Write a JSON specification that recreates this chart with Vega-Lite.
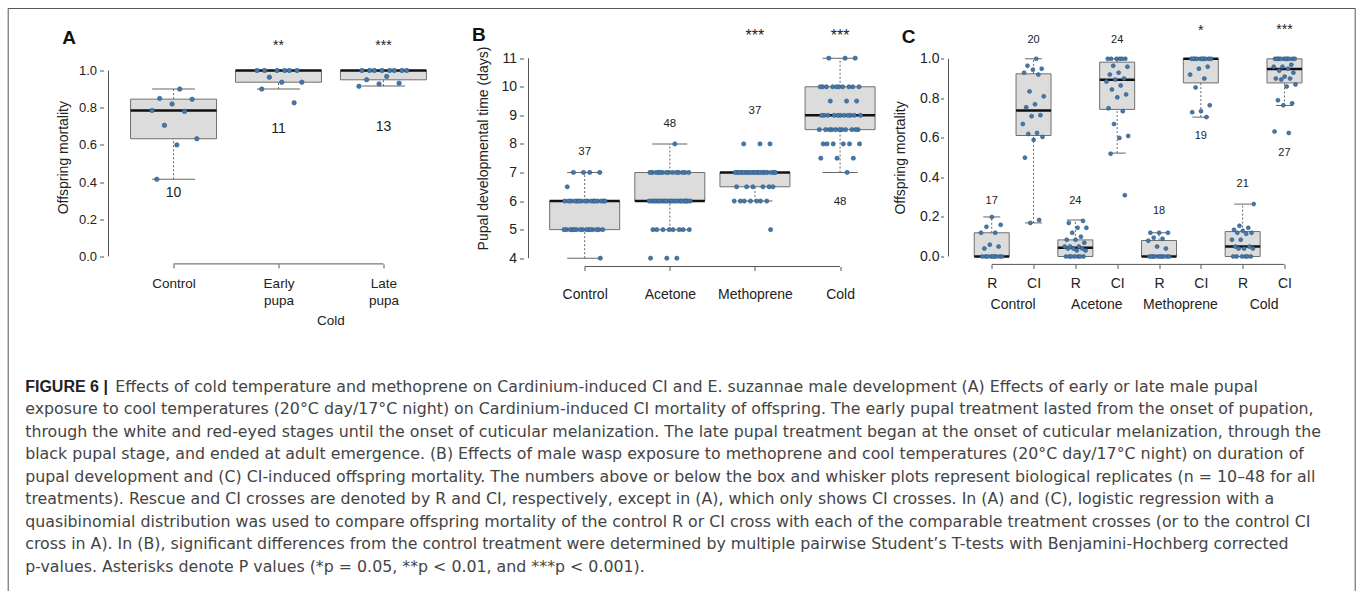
{
  "$schema": "https://vega.github.io/schema/vega-lite/v6.json",
  "background": "white",
  "padding": {"left": 7.5, "top": 7.5, "right": 2, "bottom": 0},
  "autosize": {"type": "pad"},
  "spacing": 0,
  "bounds": "flush",
  "datasets": {
    "boxA": [
      {"g": "Control", "pos": 1, "lo": 0.415, "q1": 0.633, "med": 0.785, "q3": 0.846, "hi": 0.9, "n": "10", "ny": 0.34, "star": "", "sy": 1.134,
       "vals": [0.9, 0.85, 0.845, 0.82, 0.785, 0.78, 0.705, 0.633, 0.6, 0.415]},
      {"g": "Early pupa", "pos": 2, "lo": 0.9, "q1": 0.937, "med": 1.0, "q3": 1.0, "hi": 1.0, "n": "11", "ny": 0.686, "star": "**", "sy": 1.134,
       "vals": [1, 1, 1, 1, 1, 1, 0.964, 0.937, 0.937, 0.9, 0.826]},
      {"g": "Late pupa", "pos": 3, "lo": 0.916, "q1": 0.95, "med": 1.0, "q3": 1.0, "hi": 1.0, "n": "13", "ny": 0.695, "star": "***", "sy": 1.134,
       "vals": [1, 1, 1, 1, 1, 1, 1, 1, 0.968, 0.95, 0.932, 0.928, 0.915]}
    ],
    "boxB": [
      {"g": "Control", "pos": 1, "lo": 4, "q1": 5, "med": 6, "q3": 6, "hi": 7, "n": "37", "ny": 7.73, "star": "", "sy": 11.79,
       "vals": [7, 7, 7, 7, 6.5, 6, 6, 6, 6, 6, 6, 6, 6, 6, 6, 6, 6, 6, 6, 6, 6, 5, 5, 5, 5, 5, 5, 5, 5, 5, 5, 5, 5, 5, 5, 5, 4]},
      {"g": "Acetone", "pos": 2, "lo": 5, "q1": 6, "med": 6, "q3": 7, "hi": 8, "n": "48", "ny": 8.68, "star": "", "sy": 11.79,
       "vals": [8, 7, 7, 7, 7, 7, 7, 7, 7, 7, 7, 7, 7, 7, 7, 6, 6, 6, 6, 6, 6, 6, 6, 6, 6, 6, 6, 6, 6, 6, 6, 6, 6, 6, 6, 6, 6, 5, 5, 5, 5, 5, 5, 5, 5, 4, 4, 4]},
      {"g": "Methoprene", "pos": 3, "lo": 6, "q1": 6.5, "med": 7, "q3": 7, "hi": 7, "n": "37", "ny": 9.15, "star": "***", "sy": 11.79,
       "vals": [8, 8, 8, 7, 7, 7, 7, 7, 7, 7, 7, 7, 7, 7, 7, 7, 7, 7, 7, 7, 7, 7, 7, 6.5, 6.5, 6.5, 6.5, 6.5, 6.5, 6, 6, 6, 6, 6, 6, 6, 5]},
      {"g": "Cold", "pos": 4, "lo": 7, "q1": 8.5, "med": 9, "q3": 10, "hi": 11, "n": "48", "ny": 5.96, "star": "***", "sy": 11.79,
       "vals": [11, 11, 11, 10, 10, 10, 10, 10, 10, 10, 10, 10, 10, 9.5, 9.5, 9.5, 9, 9, 9, 9, 9, 9, 9, 9, 9, 9, 9, 8.5, 8.5, 8.5, 8.5, 8.5, 8.5, 8.5, 8.5, 8.5, 8.5, 8.5, 8, 8, 8, 8, 8, 8, 7.5, 7.5, 7.5, 7]}
    ],
    "boxC": [
      {"g": "Control R", "treat": "Control", "cross": "R", "pos": 1, "lo": 0, "q1": 0, "med": 0, "q3": 0.12, "hi": 0.2, "n": "17", "ny": 0.283, "star": "", "sy": 1.145,
       "vals": [0, 0, 0, 0, 0, 0, 0, 0, 0, 0.04, 0.05, 0.06, 0.12, 0.12, 0.15, 0.16, 0.2]},
      {"g": "Control CI", "treat": "Control", "cross": "CI", "pos": 2, "lo": 0.17, "q1": 0.612, "med": 0.739, "q3": 0.924, "hi": 1.0, "n": "20", "ny": 1.096, "star": "", "sy": 1.145,
       "vals": [1.0, 0.965, 0.95, 0.945, 0.93, 0.92, 0.835, 0.81, 0.77, 0.755, 0.715, 0.71, 0.67, 0.625, 0.62, 0.605, 0.59, 0.5, 0.185, 0.17]},
      {"g": "Acetone R", "treat": "Acetone", "cross": "R", "pos": 3, "lo": 0, "q1": 0, "med": 0.044, "q3": 0.084, "hi": 0.184, "n": "24", "ny": 0.283, "star": "", "sy": 1.145,
       "vals": [0, 0, 0, 0, 0, 0, 0, 0.03, 0.03, 0.04, 0.04, 0.04, 0.05, 0.05, 0.05, 0.07, 0.085, 0.085, 0.1, 0.12, 0.145, 0.145, 0.17, 0.18]},
      {"g": "Acetone CI", "treat": "Acetone", "cross": "CI", "pos": 4, "lo": 0.523, "q1": 0.744, "med": 0.894, "q3": 0.983, "hi": 1.0, "n": "24", "ny": 1.096, "star": "", "sy": 1.145,
       "vals": [1, 1, 1, 1, 1, 1, 0.965, 0.96, 0.93, 0.92, 0.9, 0.895, 0.885, 0.865, 0.845, 0.82, 0.805, 0.75, 0.735, 0.67, 0.61, 0.6, 0.52, 0.31]},
      {"g": "Methoprene R", "treat": "Methoprene", "cross": "R", "pos": 5, "lo": 0, "q1": 0, "med": 0, "q3": 0.081, "hi": 0.12, "n": "18", "ny": 0.228, "star": "", "sy": 1.145,
       "vals": [0, 0, 0, 0, 0, 0, 0, 0, 0, 0, 0.04, 0.05, 0.08, 0.09, 0.095, 0.12, 0.12, 0.12]},
      {"g": "Methoprene CI", "treat": "Methoprene", "cross": "CI", "pos": 6, "lo": 0.705, "q1": 0.878, "med": 1.0, "q3": 1.0, "hi": 1.0, "n": "19", "ny": 0.612, "star": "*", "sy": 1.143,
       "vals": [1, 1, 1, 1, 1, 1, 1, 1, 1, 1, 0.96, 0.95, 0.92, 0.9, 0.855, 0.765, 0.735, 0.73, 0.705]},
      {"g": "Cold R", "treat": "Cold", "cross": "R", "pos": 7, "lo": 0, "q1": 0, "med": 0.05, "q3": 0.126, "hi": 0.265, "n": "21", "ny": 0.368, "star": "", "sy": 1.145,
       "vals": [0, 0, 0, 0, 0, 0, 0.04, 0.04, 0.04, 0.05, 0.05, 0.085, 0.085, 0.115, 0.12, 0.12, 0.13, 0.135, 0.145, 0.155, 0.265]},
      {"g": "Cold CI", "treat": "Cold", "cross": "CI", "pos": 8, "lo": 0.764, "q1": 0.878, "med": 0.949, "q3": 1.0, "hi": 1.0, "n": "27", "ny": 0.524, "star": "***", "sy": 1.148,
       "vals": [1, 1, 1, 1, 1, 1, 1, 1, 1, 1, 0.97, 0.96, 0.96, 0.95, 0.94, 0.93, 0.91, 0.9, 0.9, 0.895, 0.87, 0.86, 0.79, 0.775, 0.765, 0.632, 0.625]}
    ],
    "caption": [
      {"line": 1, "text": "Effects of cold temperature and methoprene on Cardinium-induced CI and E. suzannae male development (A) Effects of early or late male pupal"},
      {"line": 2, "text": "exposure to cool temperatures (20°C day/17°C night) on Cardinium-induced CI mortality of offspring. The early pupal treatment lasted from the onset of pupation,"},
      {"line": 3, "text": "through the white and red-eyed stages until the onset of cuticular melanization. The late pupal treatment began at the onset of cuticular melanization, through the"},
      {"line": 4, "text": "black pupal stage, and ended at adult emergence. (B) Effects of male wasp exposure to methoprene and cool temperatures (20°C day/17°C night) on duration of"},
      {"line": 5, "text": "pupal development and (C) CI-induced offspring mortality. The numbers above or below the box and whisker plots represent biological replicates (n = 10–48 for all"},
      {"line": 6, "text": "treatments). Rescue and CI crosses are denoted by R and CI, respectively, except in (A), which only shows CI crosses. In (A) and (C), logistic regression with a"},
      {"line": 7, "text": "quasibinomial distribution was used to compare offspring mortality of the control R or CI cross with each of the comparable treatment crosses (or to the control CI"},
      {"line": 8, "text": "cross in A). In (B), significant differences from the control treatment were determined by multiple pairwise Student’s T-tests with Benjamini-Hochberg corrected"},
      {"line": 9, "text": "p-values. Asterisks denote P values (*p = 0.05, **p < 0.01, and ***p < 0.001)."}
    ]
  },
  "hconcat": [
    {
      "width": 419.1,
      "height": 213.4,
      "resolve": {"scale": {"x": "independent", "y": "independent"}},
      "layer": [
        {
          "data": {"name": "boxA"},
          "layer": [
            {
              "mark": {"type": "bar", "width": 86, "fill": "#dcdcdc", "stroke": "#707070", "strokeWidth": 1},
              "encoding": {
                "x": {"field": "pos", "type": "quantitative", "scale": {"domain": [0.38, 4.2786], "nice": false, "zero": false},
                  "axis": {"values": [1, 2, 3], "labelExpr": "datum.value == 1 ? 'Control' : datum.value == 2 ? ['Early', 'pupa'] : ['Late', 'pupa']", "tickSize": 4, "labelFontSize": 13.5, "labelPadding": 8.5, "labelLineHeight": 17.6, "labelFlush": false, "labelOverlap": false, "title": null}},
                "y": {"field": "q1", "type": "quantitative", "scale": {"domain": [-0.04, 1.1075], "nice": false, "zero": false},
                  "axis": {"values": [0, 0.2, 0.4, 0.6, 0.8, 1.0], "format": ".1f", "tickSize": 4, "labelFontSize": 13, "labelPadding": 3, "labelOverlap": false, "title": "Offspring mortality", "titleFontSize": 14, "titlePadding": 8}},
                "y2": {"field": "q3"}
              }
            },
            {
              "mark": {"type": "rule", "stroke": "#666", "strokeDash": [2, 2], "strokeWidth": 1},
              "encoding": {"x": {"field": "pos", "type": "quantitative"}, "y": {"field": "q3", "type": "quantitative"}, "y2": {"field": "hi"}}
            },
            {
              "mark": {"type": "rule", "stroke": "#666", "strokeDash": [2, 2], "strokeWidth": 1},
              "encoding": {"x": {"field": "pos", "type": "quantitative"}, "y": {"field": "lo", "type": "quantitative"}, "y2": {"field": "q1"}}
            },
            {
              "mark": {"type": "tick", "orient": "horizontal", "size": 43, "thickness": 1, "color": "#666", "opacity": 1},
              "encoding": {"x": {"field": "pos", "type": "quantitative"}, "y": {"field": "hi", "type": "quantitative"}}
            },
            {
              "mark": {"type": "tick", "orient": "horizontal", "size": 43, "thickness": 1, "color": "#666", "opacity": 1},
              "encoding": {"x": {"field": "pos", "type": "quantitative"}, "y": {"field": "lo", "type": "quantitative"}}
            },
            {
              "mark": {"type": "tick", "orient": "horizontal", "size": 86, "thickness": 2.5, "color": "#111", "opacity": 1},
              "encoding": {"x": {"field": "pos", "type": "quantitative"}, "y": {"field": "med", "type": "quantitative"}}
            },
            {
              "transform": [
                {"flatten": ["vals"], "as": ["v"]},
                {"window": [{"op": "row_number", "as": "i"}], "groupby": ["g"]},
                {"calculate": "datum.pos + (((datum.i * 0.618034) % 1) - 0.5) * 0.5", "as": "xj"}
              ],
              "mark": {"type": "circle", "size": 20, "color": "#4677a8", "opacity": 1, "stroke": "#2d5a87", "strokeWidth": 0.6},
              "encoding": {"x": {"field": "xj", "type": "quantitative"}, "y": {"field": "v", "type": "quantitative"}}
            },
            {
              "mark": {"type": "text", "fontSize": 14, "color": "#222", "baseline": "middle"},
              "encoding": {"x": {"field": "pos", "type": "quantitative"}, "y": {"field": "ny", "type": "quantitative"}, "text": {"field": "n"}}
            },
            {
              "transform": [{"filter": "datum.star != ''"}],
              "mark": {"type": "text", "fontSize": 14, "color": "#222", "baseline": "middle"},
              "encoding": {"x": {"field": "pos", "type": "quantitative"}, "y": {"field": "sy", "type": "quantitative"}, "text": {"field": "star"}}
            },
            {
              "data": {"values": [{}]},
              "mark": {"type": "rule", "stroke": "#555", "strokeWidth": 1},
              "encoding": {"x": {"datum": 0.38, "type": "quantitative"}, "y": {"datum": 0, "type": "quantitative"}, "y2": {"datum": 1}}
            },
            {
              "data": {"values": [{}]},
              "mark": {"type": "rule", "stroke": "#555", "strokeWidth": 1},
              "encoding": {"x": {"datum": 1, "type": "quantitative"}, "x2": {"datum": 3}, "y": {"datum": -0.04, "type": "quantitative"}}
            },
            {
              "data": {"values": [{}]},
              "mark": {"type": "text", "text": "A", "fontSize": 19, "fontWeight": "bold", "color": "#111", "baseline": "middle"},
              "encoding": {"x": {"datum": 0.005, "type": "quantitative"}, "y": {"datum": 1.1737, "type": "quantitative"}}
            },
            {
              "data": {"values": [{}]},
              "mark": {"type": "text", "text": "Cold", "fontSize": 13.5, "color": "#222", "baseline": "middle"},
              "encoding": {"x": {"datum": 2.5, "type": "quantitative"}, "y": {"datum": -0.3495, "type": "quantitative"}}
            }
          ]
        },
        {
          "data": {"name": "caption"},
          "layer": [
            {
              "data": {"values": [{}]},
              "mark": {"type": "rect", "fill": "white", "fillOpacity": 0, "stroke": "#555", "strokeWidth": 1},
              "encoding": {
                "x": {"datum": -95.3, "type": "quantitative", "scale": {"domain": [0, 419.1], "nice": false, "zero": false}, "axis": null},
                "x2": {"datum": 1251.7},
                "y": {"datum": -15.8, "type": "quantitative", "scale": {"domain": [-13.933, -4.449], "reverse": true, "nice": false, "zero": false}, "axis": null},
                "y2": {"datum": 11}
              }
            },
            {
              "data": {"values": [{}]},
              "mark": {"type": "text", "text": "FIGURE 6 |", "fontWeight": "bold", "font": "Liberation Sans", "fontSize": 16, "align": "left", "baseline": "middle", "color": "#222"},
              "encoding": {"x": {"datum": -78.3, "type": "quantitative"}, "y": {"datum": 1, "type": "quantitative"}}
            },
            {
              "transform": [{"filter": "datum.line == 1"}],
              "mark": {"type": "text", "font": "DejaVu Sans", "fontSize": 15.8, "align": "left", "baseline": "middle", "color": "#444"},
              "encoding": {"x": {"datum": 11.7, "type": "quantitative"}, "y": {"field": "line", "type": "quantitative"}, "text": {"field": "text"}}
            },
            {
              "transform": [{"filter": "datum.line > 1"}],
              "mark": {"type": "text", "font": "DejaVu Sans", "fontSize": 15.8, "align": "left", "baseline": "middle", "color": "#444"},
              "encoding": {"x": {"datum": -78.3, "type": "quantitative"}, "y": {"field": "line", "type": "quantitative"}, "text": {"field": "text"}}
            }
          ]
        }
      ]
    },
    {
      "width": 419.3,
      "height": 216,
      "data": {"name": "boxB"},
      "layer": [
        {
          "mark": {"type": "bar", "width": 70, "fill": "#dcdcdc", "stroke": "#707070", "strokeWidth": 1},
          "encoding": {
            "x": {"field": "pos", "type": "quantitative", "scale": {"domain": [0.34, 5.148], "nice": false, "zero": false},
              "axis": {"values": [1, 2, 3, 4], "labelExpr": "['Control', 'Acetone', 'Methoprene', 'Cold'][datum.value - 1]", "tickSize": 4, "labelFontSize": 14, "labelPadding": 17, "labelFlush": false, "labelOverlap": false, "title": null}},
            "y": {"field": "q1", "type": "quantitative", "scale": {"domain": [3.7095, 11.2695], "nice": false, "zero": false},
              "axis": {"values": [4, 5, 6, 7, 8, 9, 10, 11], "tickCount": 8, "format": "d", "tickSize": 4, "labelFontSize": 14, "labelPadding": 3, "labelOverlap": false, "title": "Pupal developmental time (days)", "titleFontSize": 14, "titlePadding": 10, "titleY": 97.5}},
            "y2": {"field": "q3"}
          }
        },
        {
          "mark": {"type": "rule", "stroke": "#666", "strokeDash": [2, 2], "strokeWidth": 1},
          "encoding": {"x": {"field": "pos", "type": "quantitative"}, "y": {"field": "q3", "type": "quantitative"}, "y2": {"field": "hi"}}
        },
        {
          "mark": {"type": "rule", "stroke": "#666", "strokeDash": [2, 2], "strokeWidth": 1},
          "encoding": {"x": {"field": "pos", "type": "quantitative"}, "y": {"field": "lo", "type": "quantitative"}, "y2": {"field": "q1"}}
        },
        {
          "mark": {"type": "tick", "orient": "horizontal", "size": 35, "thickness": 1, "color": "#666", "opacity": 1},
          "encoding": {"x": {"field": "pos", "type": "quantitative"}, "y": {"field": "hi", "type": "quantitative"}}
        },
        {
          "mark": {"type": "tick", "orient": "horizontal", "size": 35, "thickness": 1, "color": "#666", "opacity": 1},
          "encoding": {"x": {"field": "pos", "type": "quantitative"}, "y": {"field": "lo", "type": "quantitative"}}
        },
        {
          "mark": {"type": "tick", "orient": "horizontal", "size": 70, "thickness": 2.5, "color": "#111", "opacity": 1},
          "encoding": {"x": {"field": "pos", "type": "quantitative"}, "y": {"field": "med", "type": "quantitative"}}
        },
        {
          "transform": [
            {"flatten": ["vals"], "as": ["v"]},
            {"window": [{"op": "row_number", "as": "i"}], "groupby": ["g"]},
            {"calculate": "datum.pos + (((datum.i * 0.618034) % 1) - 0.5) * 0.5", "as": "xj"}
          ],
          "mark": {"type": "circle", "size": 18, "color": "#4677a8", "opacity": 1, "stroke": "#2d5a87", "strokeWidth": 0.6},
          "encoding": {"x": {"field": "xj", "type": "quantitative"}, "y": {"field": "v", "type": "quantitative"}}
        },
        {
          "mark": {"type": "text", "fontSize": 11.5, "color": "#222", "baseline": "middle"},
          "encoding": {"x": {"field": "pos", "type": "quantitative"}, "y": {"field": "ny", "type": "quantitative"}, "text": {"field": "n"}}
        },
        {
          "transform": [{"filter": "datum.star != ''"}],
          "mark": {"type": "text", "fontSize": 16, "color": "#222", "baseline": "middle"},
          "encoding": {"x": {"field": "pos", "type": "quantitative"}, "y": {"field": "sy", "type": "quantitative"}, "text": {"field": "star"}}
        },
        {
          "data": {"values": [{}]},
          "mark": {"type": "rule", "stroke": "#555", "strokeWidth": 1},
          "encoding": {"x": {"datum": 0.34, "type": "quantitative"}, "y": {"datum": 4, "type": "quantitative"}, "y2": {"datum": 11}}
        },
        {
          "data": {"values": [{}]},
          "mark": {"type": "rule", "stroke": "#555", "strokeWidth": 1},
          "encoding": {"x": {"datum": 1, "type": "quantitative"}, "x2": {"datum": 4}, "y": {"datum": 3.7095, "type": "quantitative"}}
        },
        {
          "data": {"values": [{}]},
          "mark": {"type": "text", "text": "B", "fontSize": 19, "fontWeight": "bold", "color": "#111", "baseline": "middle"},
          "encoding": {"x": {"datum": -0.242, "type": "quantitative"}, "y": {"datum": 11.795, "type": "quantitative"}}
        }
      ]
    },
    {
      "width": 413.3,
      "height": 213.9,
      "data": {"name": "boxC"},
      "layer": [
        {
          "mark": {"type": "bar", "width": 35, "fill": "#dcdcdc", "stroke": "#707070", "strokeWidth": 1},
          "encoding": {
            "x": {"field": "pos", "type": "quantitative", "scale": {"domain": [-0.0336, 9.61], "nice": false, "zero": false},
              "axis": {"values": [1, 2, 3, 4, 5, 6, 7, 8], "labelExpr": "datum.value % 2 == 1 ? 'R' : 'CI'", "tickSize": 4, "labelFontSize": 14, "labelPadding": 8, "labelFlush": false, "labelOverlap": false, "title": null}},
            "y": {"field": "q1", "type": "quantitative", "scale": {"domain": [-0.04, 1.042], "nice": false, "zero": false},
              "axis": {"values": [0, 0.2, 0.4, 0.6, 0.8, 1.0], "format": ".1f", "tickSize": 3, "labelFontSize": 14, "labelPadding": 1.5, "labelOverlap": false, "title": "Offspring mortality", "titleFontSize": 14, "titlePadding": 12}},
            "y2": {"field": "q3"}
          }
        },
        {
          "mark": {"type": "rule", "stroke": "#666", "strokeDash": [2, 2], "strokeWidth": 1},
          "encoding": {"x": {"field": "pos", "type": "quantitative"}, "y": {"field": "q3", "type": "quantitative"}, "y2": {"field": "hi"}}
        },
        {
          "mark": {"type": "rule", "stroke": "#666", "strokeDash": [2, 2], "strokeWidth": 1},
          "encoding": {"x": {"field": "pos", "type": "quantitative"}, "y": {"field": "lo", "type": "quantitative"}, "y2": {"field": "q1"}}
        },
        {
          "mark": {"type": "tick", "orient": "horizontal", "size": 17, "thickness": 1, "color": "#666", "opacity": 1},
          "encoding": {"x": {"field": "pos", "type": "quantitative"}, "y": {"field": "hi", "type": "quantitative"}}
        },
        {
          "mark": {"type": "tick", "orient": "horizontal", "size": 17, "thickness": 1, "color": "#666", "opacity": 1},
          "encoding": {"x": {"field": "pos", "type": "quantitative"}, "y": {"field": "lo", "type": "quantitative"}}
        },
        {
          "mark": {"type": "tick", "orient": "horizontal", "size": 35, "thickness": 2.5, "color": "#111", "opacity": 1},
          "encoding": {"x": {"field": "pos", "type": "quantitative"}, "y": {"field": "med", "type": "quantitative"}}
        },
        {
          "transform": [
            {"flatten": ["vals"], "as": ["v"]},
            {"window": [{"op": "row_number", "as": "i"}], "groupby": ["g"]},
            {"calculate": "datum.pos + (((datum.i * 0.618034) % 1) - 0.5) * 0.55", "as": "xj"}
          ],
          "mark": {"type": "circle", "size": 16, "color": "#4677a8", "opacity": 1, "stroke": "#2d5a87", "strokeWidth": 0.6},
          "encoding": {"x": {"field": "xj", "type": "quantitative"}, "y": {"field": "v", "type": "quantitative"}}
        },
        {
          "mark": {"type": "text", "fontSize": 11, "color": "#222", "baseline": "middle"},
          "encoding": {"x": {"field": "pos", "type": "quantitative"}, "y": {"field": "ny", "type": "quantitative"}, "text": {"field": "n"}}
        },
        {
          "transform": [{"filter": "datum.star != ''"}],
          "mark": {"type": "text", "fontSize": 14, "color": "#222", "baseline": "middle"},
          "encoding": {"x": {"field": "pos", "type": "quantitative"}, "y": {"field": "sy", "type": "quantitative"}, "text": {"field": "star"}}
        },
        {
          "transform": [{"filter": "datum.cross == 'R'"}],
          "mark": {"type": "text", "fontSize": 14, "color": "#222", "baseline": "middle", "dx": 21.4},
          "encoding": {"x": {"field": "pos", "type": "quantitative"}, "y": {"datum": -0.2479, "type": "quantitative"}, "text": {"field": "treat"}}
        },
        {
          "data": {"values": [{}]},
          "mark": {"type": "rule", "stroke": "#555", "strokeWidth": 1},
          "encoding": {"x": {"datum": -0.0336, "type": "quantitative"}, "y": {"datum": 0, "type": "quantitative"}, "y2": {"datum": 1}}
        },
        {
          "data": {"values": [{}]},
          "mark": {"type": "rule", "stroke": "#555", "strokeWidth": 1},
          "encoding": {"x": {"datum": 1, "type": "quantitative"}, "x2": {"datum": 8}, "y": {"datum": -0.04, "type": "quantitative"}}
        },
        {
          "data": {"values": [{}]},
          "mark": {"type": "text", "text": "C", "fontSize": 19, "fontWeight": "bold", "color": "#111", "baseline": "middle"},
          "encoding": {"x": {"datum": -0.99, "type": "quantitative"}, "y": {"datum": 1.109, "type": "quantitative"}}
        }
      ]
    }
  ],
  "config": {
    "font": "Liberation Sans",
    "view": {"stroke": null},
    "axis": {"grid": false, "domain": false, "tickColor": "#555", "labelColor": "#222", "titleColor": "#222", "titleFontWeight": "normal", "labelFont": "Liberation Sans", "titleFont": "Liberation Sans"}
  }
}
